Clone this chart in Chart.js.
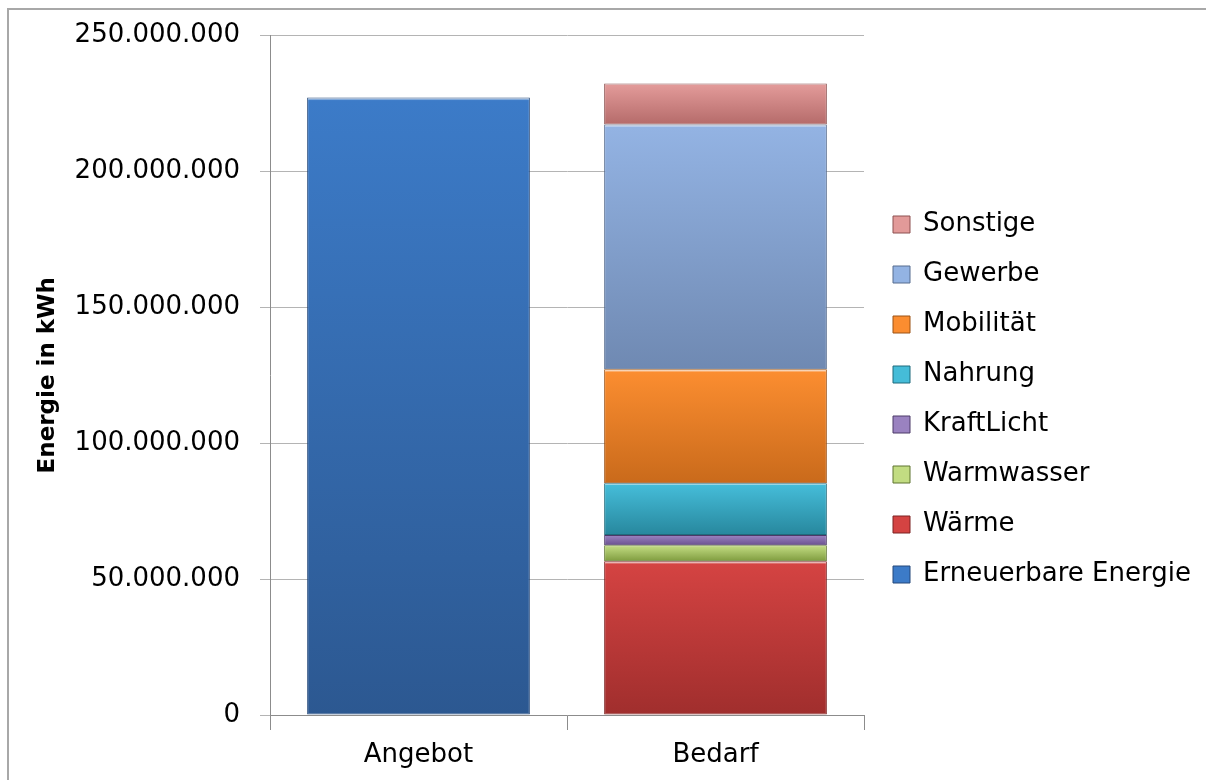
<!DOCTYPE html>
<html>
<head>
<meta charset="utf-8">
<script src="https://cdn.jsdelivr.net/npm/chart.js@4.4.1/dist/chart.umd.min.js"></script>
<style>
  html, body { margin: 0; padding: 0; background: #fff; }
  #wrap { width: 1206px; height: 780px; position: relative; }
</style>
</head>
<body>
<div id="wrap"><canvas id="energyChart" width="1206" height="780"></canvas></div>
<script>
const categories = ["Angebot", "Bedarf"];
const seriesNames = ["Erneuerbare Energie", "Wärme", "Warmwasser", "KraftLicht", "Nahrung", "Mobilität", "Gewerbe", "Sonstige"];
// values in kWh
const erneuerbar = [227200000, 0];
const waerme     = [0, 56600000];
const warmwasser = [0, 5900000];
const kraftLicht = [0, 3700000];
const nahrung    = [0, 19100000];
const mobilitaet = [0, 41900000];
const gewerbe    = [0, 90100000];
const sonstige   = [0, 15100000];
const yTicks = [0, 50000000, 100000000, 150000000, 200000000, 250000000];

const seriesValues = [erneuerbar, waerme, warmwasser, kraftLicht, nahrung, mobilitaet, gewerbe, sonstige];
// [top, bottom, border] per series
const palette = [
    ["#3c7bc8", "#2c5891", "#25497a"],
    ["#d44342", "#a02e2d", "#7d2322"],
    ["#c2dc82", "#7f9c3f", "#5f7530"],
    ["#9a82c0", "#6b5290", "#4c3a68"],
    ["#45bcd8", "#27879d", "#1f6a7c"],
    ["#fb8d30", "#c96a1b", "#9c5215"],
    ["#93b3e3", "#6f89b2", "#566c8f"],
    ["#e29a99", "#b56b6a", "#8d5150"]
];

function fmt(v) {
    return String(v).replace(/\B(?=(\d{3})+(?!\d))/g, ".");
}

function segGradient(ctx) {
    const chart = ctx.chart;
    const ds = ctx.datasetIndex;
    const cols = palette[ds];
    const y = chart.scales.y;
    if (!chart.chartArea || !y || ctx.dataIndex === undefined) return cols[0];
    let base = 0;
    for (let i = 0; i < ds; i++) base += seriesValues[i][ctx.dataIndex];
    const top = y.getPixelForValue(base + seriesValues[ds][ctx.dataIndex]);
    const bot = y.getPixelForValue(base);
    if (!isFinite(top) || !isFinite(bot) || top === bot) return cols[0];
    const g = chart.ctx.createLinearGradient(0, top, 0, bot);
    g.addColorStop(0, "#ffffff");
    g.addColorStop(Math.min(0.04, 3 / (bot - top)), cols[0]);
    g.addColorStop(1, cols[1]);
    return g;
}

const frame = {
    id: "frame",
    afterDraw(chart) {
        const c = chart.ctx;
        c.save();
        c.strokeStyle = "#a8a8a8";
        c.lineWidth = 2;
        c.beginPath();
        c.moveTo(8, 780);
        c.lineTo(8, 9);
        c.lineTo(1206, 9);
        c.stroke();
        c.restore();
    }
};

// fixed legend width so the plot ends where the reference does,
// and a small nudge of the legend items up and to the right
const legendFix = {
    id: "legendFix",
    afterInit(chart) {
        const lg = chart.legend;
        if (!lg) return;
        const fit = lg.fit.bind(lg);
        lg.fit = function () {
            fit();
            this.width = 1206 - 864;
        };
        const draw = lg.draw.bind(lg);
        lg.draw = function () {
            this.top -= 8; this.bottom -= 8; this.left += 5;
            draw();
            this.top += 8; this.bottom += 8; this.left -= 5;
        };
    }
};

const datasets = seriesNames.map((name, i) => ({
    label: name,
    data: seriesValues[i],
    backgroundColor: segGradient,
    borderColor: palette[i][2],
    borderWidth: 1,
    borderSkipped: false,
    barPercentage: 0.75,
    categoryPercentage: 1.0
}));

const ctx = document.getElementById("energyChart").getContext("2d");
new Chart(ctx, {
    type: "bar",
    data: { labels: categories, datasets: datasets },
    plugins: [frame, legendFix],
    options: {
        responsive: false,
        animation: false,
        layout: { padding: { top: 35, right: 0, bottom: 0, left: 0 } },
        plugins: {
            tooltip: { enabled: false },
            legend: {
                position: "right",
                reverse: true,
                labels: {
                    boxWidth: 17,
                    boxHeight: 17,
                    padding: 24,
                    color: "#000",
                    font: { family: "DejaVu Sans", size: 26 },
                    generateLabels(chart) {
                        return chart.data.datasets.map((d, i) => ({
                            text: d.label,
                            fillStyle: palette[i][0],
                            strokeStyle: palette[i][2],
                            lineWidth: 1,
                            datasetIndex: i,
                            hidden: false
                        }));
                    }
                }
            }
        },
        scales: {
            x: {
                stacked: true,
                afterFit(scale) { scale.height = 65; },
                grid: {
                    offset: true,
                    drawOnChartArea: false,
                    tickLength: 15,
                    color: "#8c8c8c"
                },
                border: { color: "#8c8c8c" },
                ticks: {
                    padding: 10,
                    color: "#000",
                    font: { family: "DejaVu Sans", size: 26 }
                }
            },
            y: {
                stacked: true,
                min: 0,
                max: 250000000,
                afterFit(scale) { scale.width = 270; },
                afterBuildTicks(scale) {
                    scale.ticks = yTicks.map(v => ({ value: v }));
                },
                grid: {
                    color: "#b4b4b4",
                    tickLength: 10
                },
                border: { color: "#8c8c8c" },
                ticks: {
                    padding: 20,
                    color: "#000",
                    font: { family: "DejaVu Sans", size: 26 },
                    callback: v => fmt(v)
                },
                title: {
                    display: true,
                    text: "Energie in kWh",
                    color: "#000",
                    padding: { top: 34, bottom: 0 },
                    font: { family: "DejaVu Sans", size: 23, weight: "bold" }
                }
            }
        }
    }
});
</script>
</body>
</html>
